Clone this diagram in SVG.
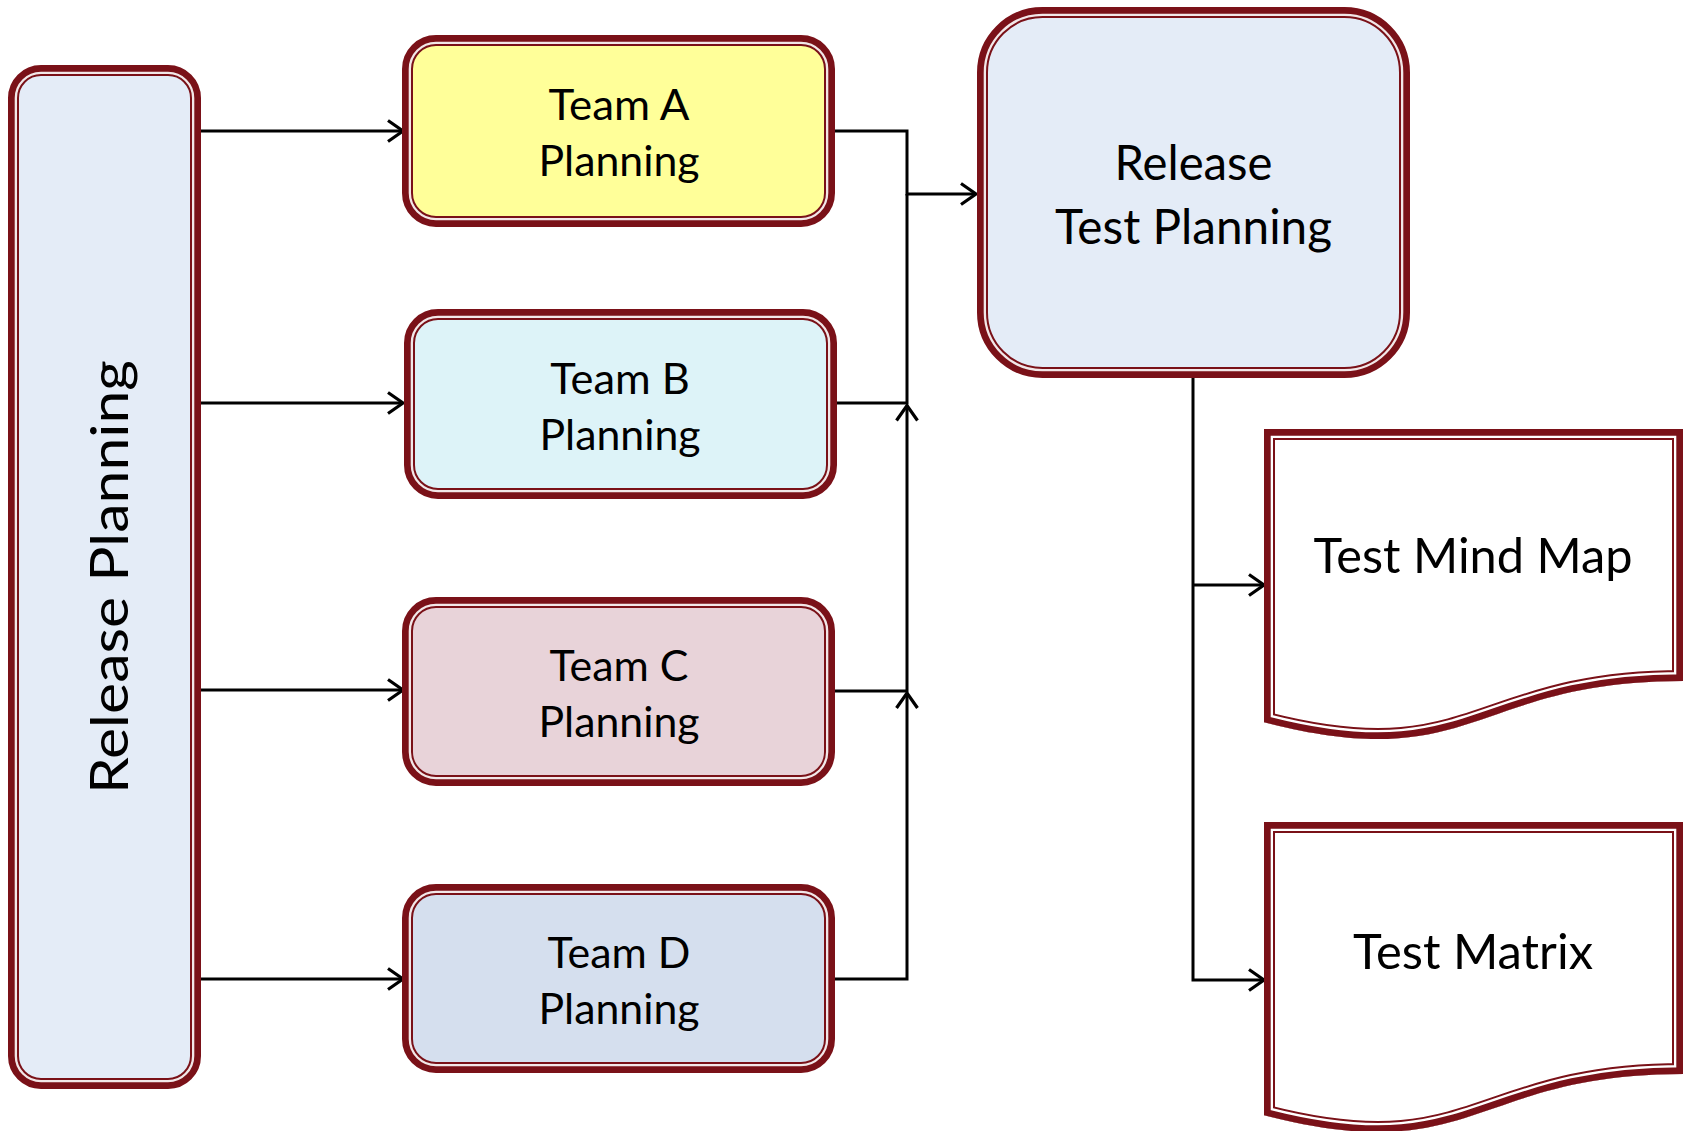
<svg xmlns="http://www.w3.org/2000/svg" width="1686" height="1131" viewBox="0 0 1686 1131">
<style>
.bd{stroke:#7A1118;stroke-width:11}
.gp{stroke:#FFFFFF;stroke-width:2.3;fill:none;stroke-opacity:0.9}
.lbl{font-family:Lato,"Open Sans","Liberation Sans",sans-serif;fill:#000;text-anchor:middle}
.t46{font-size:42px}
.t52{font-size:47.5px}
.t58{font-size:53px}
.con{fill:none;stroke:#000;stroke-width:3;stroke-linejoin:miter}
</style>
<defs>
<marker id="arr" markerUnits="userSpaceOnUse" orient="auto" overflow="visible" refX="0" refY="0" markerWidth="1" markerHeight="1">
<path d="M-15,-10.5 L0,0 L-15,10.5" fill="none" stroke="#000" stroke-width="3.2"/>
</marker>
<path id="docA" d="M1264,429 H1683 V681 C1473.5,681 1473.5,776.8 1264,722.3 Z"/>
<path id="docB" d="M1264,822 H1683 V1074 C1473.5,1074 1473.5,1169.8 1264,1115.3 Z"/>
<clipPath id="clipA"><use href="#docA"/></clipPath>
<clipPath id="clipB"><use href="#docB"/></clipPath>
</defs>
<rect width="1686" height="1131" fill="#FFFFFF"/>

<g id="connectors">
<path class="con" d="M199,131 H403" marker-end="url(#arr)"/>
<path class="con" d="M199,403 H403" marker-end="url(#arr)"/>
<path class="con" d="M199,690 H403" marker-end="url(#arr)"/>
<path class="con" d="M199,979 H403" marker-end="url(#arr)"/>
<path class="con" d="M834,131 H907 V194 H976" marker-end="url(#arr)"/>
<path class="con" d="M836,403 H907 V194"/>
<path class="con" d="M834,691 H907 V405.5" marker-end="url(#arr)"/>
<path class="con" d="M834,979 H907 V693" marker-end="url(#arr)"/>
<path class="con" d="M1193,377 V980 H1264" marker-end="url(#arr)"/>
<path class="con" d="M1193,585 H1264" marker-end="url(#arr)"/>
</g>

<g id="release-planning">
<rect class="bd" x="13.5" y="70.5" width="182" height="1013" rx="27.5" fill="#E4ECF7"/>
<rect class="gp" x="15.85" y="72.85" width="177.3" height="1008.3" rx="25.15"/>
<text class="lbl t58" transform="translate(128,577) rotate(-90)" textLength="434" lengthAdjust="spacingAndGlyphs">Release Planning</text>
</g>

<g id="team-a">
<rect class="bd" x="407.5" y="40.5" width="422" height="181" rx="28.5" fill="#FFFF99"/>
<rect class="gp" x="409.85" y="42.85" width="417.3" height="176.3" rx="26.15"/>
<text class="lbl t46" x="619" y="120" textLength="141" lengthAdjust="spacingAndGlyphs">Team A</text>
<text class="lbl t46" x="619" y="176" textLength="161" lengthAdjust="spacingAndGlyphs">Planning</text>
</g>

<g id="team-b">
<rect class="bd" x="409.5" y="314.5" width="422" height="179" rx="28.5" fill="#DDF3F8"/>
<rect class="gp" x="411.85" y="316.85" width="417.3" height="174.3" rx="26.15"/>
<text class="lbl t46" x="620" y="394" textLength="139.5" lengthAdjust="spacingAndGlyphs">Team B</text>
<text class="lbl t46" x="620" y="450" textLength="161" lengthAdjust="spacingAndGlyphs">Planning</text>
</g>

<g id="team-c">
<rect class="bd" x="407.5" y="602.5" width="422" height="178" rx="28.5" fill="#E8D3D9"/>
<rect class="gp" x="409.85" y="604.85" width="417.3" height="173.3" rx="26.15"/>
<text class="lbl t46" x="619" y="681" textLength="139" lengthAdjust="spacingAndGlyphs">Team C</text>
<text class="lbl t46" x="619" y="737" textLength="161" lengthAdjust="spacingAndGlyphs">Planning</text>
</g>

<g id="team-d">
<rect class="bd" x="407.5" y="889.5" width="422" height="178" rx="28.5" fill="#D5DFEE"/>
<rect class="gp" x="409.85" y="891.85" width="417.3" height="173.3" rx="26.15"/>
<text class="lbl t46" x="619" y="968" textLength="143" lengthAdjust="spacingAndGlyphs">Team D</text>
<text class="lbl t46" x="619" y="1024" textLength="161" lengthAdjust="spacingAndGlyphs">Planning</text>
</g>

<g id="release-test-planning">
<rect class="bd" x="982.5" y="12.5" width="422" height="360" rx="60" fill="#E4ECF7"/>
<rect class="gp" x="984.85" y="14.85" width="417.3" height="355.3" rx="57.65"/>
<text class="lbl t52" x="1193.5" y="180" textLength="158" lengthAdjust="spacingAndGlyphs">Release</text>
<text class="lbl t52" x="1193.5" y="244" textLength="277" lengthAdjust="spacingAndGlyphs">Test Planning</text>
</g>

<g id="test-mind-map">
<g clip-path="url(#clipA)">
<use href="#docA" fill="#FFFFFF" stroke="#7A1118" stroke-width="22"/>
<use href="#docA" fill="none" stroke="#FFFFFF" stroke-width="18"/>
<use href="#docA" fill="none" stroke="#7A1118" stroke-width="13.4"/>
</g>
<text class="lbl t52" x="1473" y="573" textLength="319" lengthAdjust="spacingAndGlyphs">Test Mind Map</text>
</g>

<g id="test-matrix">
<g clip-path="url(#clipB)">
<use href="#docB" fill="#FFFFFF" stroke="#7A1118" stroke-width="22"/>
<use href="#docB" fill="none" stroke="#FFFFFF" stroke-width="18"/>
<use href="#docB" fill="none" stroke="#7A1118" stroke-width="13.4"/>
</g>
<text class="lbl t52" x="1473" y="969" textLength="240" lengthAdjust="spacingAndGlyphs">Test Matrix</text>
</g>
</svg>
